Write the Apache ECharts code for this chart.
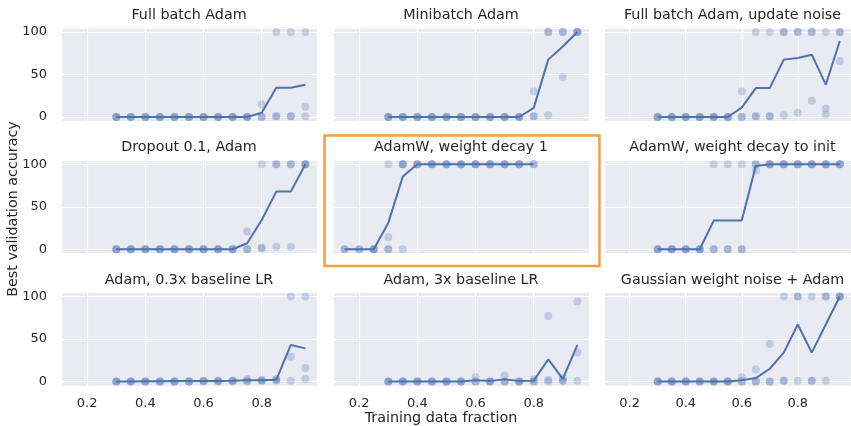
<!DOCTYPE html>
<html><head><meta charset="utf-8">
<script src="https://cdn.jsdelivr.net/npm/echarts@6/dist/echarts.min.js"></script>
<style>html,body{margin:0;padding:0;background:#fff}#c{width:851px;height:426px}</style>
</head><body><div id="c"></div>
<script>
// ---------- data ----------
const xMain = [0.3,0.35,0.4,0.45,0.5,0.55,0.6,0.65,0.7,0.75,0.8,0.85,0.9,0.95];
const xWeightDecay = [0.15,0.2,0.25,0.3,0.35,0.4,0.45,0.5,0.55,0.6,0.65,0.7,0.75,0.8];
const xTicks = [0.2,0.4,0.6,0.8];
const yTicks = [0,50,100];
const titles = [
  'Full batch Adam','Minibatch Adam','Full batch Adam, update noise',
  'Dropout 0.1, Adam','AdamW, weight decay 1','AdamW, weight decay to init',
  'Adam, 0.3x baseline LR','Adam, 3x baseline LR','Gaussian weight noise + Adam'
];
const Z3 = [0,0,0];

const meanFullBatch = [0,0,0,0,0,0,0,0,0,0,5,34.5,34.5,38];
const runsFullBatch = [Z3,Z3,Z3,Z3,Z3,Z3,Z3,Z3,Z3,Z3,[15,0,0],[100,1,1],[100,1,1],[100,12,1]];

const meanMinibatch = [0,0,0,0,0,0,0,0,0,0,10.7,67.5,83,100];
const runsMinibatch = [Z3,Z3,Z3,Z3,Z3,Z3,Z3,Z3,Z3,Z3,[30,1,1],[100,100,2],[100,100,47],[100,100,100]];

const meanUpdateNoise = [0,0,0,0,0,0,11,34,34,67.5,69.4,73.3,38,89.4];
const runsUpdateNoise = [Z3,Z3,Z3,Z3,Z3,Z3,[30,0,0],[100,1,1],[100,1,1],[100,100,2],[100,100,5],[100,100,19],[100,10,3],[100,100,66]];

const meanDropout = [0,0,0,0,0,0,0,0,0,7,34.5,67.8,67.8,100];
const runsDropout = [Z3,Z3,Z3,Z3,Z3,Z3,Z3,Z3,Z3,[21,0,0],[100,2,1],[100,100,3],[100,100,3],[100,100,100]];

const meanWeightDecay = [0,0,0,31,85.5,100,100,100,100,100,100,100,100,100];
const runsWeightDecay = [[0,0],[0,0],Z3,[100,14,0,0],[100,100,100,0],[100,100,100],[100,100,100],[100,100,100],[100,100,100],[100,100,100],[100,100,100],[100,100,100],[100,100,100],[100,100]];

const meanDecayInit = [0,0,0,0,33.7,33.7,33.7,98,100,100,100,100,100,100];
const runsDecayInit = [Z3,Z3,Z3,Z3,[100,0,0],[100,0,0],[100,0,0],[100,100,93],[100,100,100],[100,100,100],[100,100,100],[100,100,100],[100,100,100],[100,100,100]];

const meanLowLR = [0,0,0.3,0.3,0.5,0.5,0.7,0.7,1,1.5,1.5,2,43,39];
const runsLowLR = [Z3,Z3,Z3,Z3,Z3,Z3,[1,1,0],[1,1,0],[1,1,0],[3,1,0],[2,1,1],[3,2,1],[100,29,1],[100,16,3]];

const meanHighLR = [0,0,0,0,0,0,1.5,0.5,2.5,0.5,1,26,3,43];
const runsHighLR = [Z3,Z3,Z3,Z3,Z3,Z3,[5,0,0],Z3,[7,0,0],Z3,[3,0,0],[77,2,0],[4,1,1],[94,34,1]];

const meanGaussNoise = [0,0,0,0,0,0,1.5,4,15,34,67,34,67,100];
const runsGaussNoise = [Z3,Z3,Z3,Z3,Z3,Z3,[5,0,0],[14,0,0],[44,0,0],[100,1,1],[100,100,1],[100,1,1],[100,100,1],[100,100,100]];

const panelX = [xMain,xMain,xMain,xMain,xWeightDecay,xMain,xMain,xMain,xMain];
const panelMean = [meanFullBatch,meanMinibatch,meanUpdateNoise,meanDropout,meanWeightDecay,meanDecayInit,meanLowLR,meanHighLR,meanGaussNoise];
const panelRuns = [runsFullBatch,runsMinibatch,runsUpdateNoise,runsDropout,runsWeightDecay,runsDecayInit,runsLowLR,runsHighLR,runsGaussNoise];

// ---------- layout ----------
const gridLeft = [61, 333, 604.5];
const gridTop = [27.75, 160, 292.25];
const GW = 256, GH = 93.5;
const BLUE = '#4c72b0', TXT = '#262626', FONT = 'DejaVu Sans';

const grids = [], xAxes = [], yAxes = [], series = [], graphics = [];
for (let i = 0; i < 9; i++) {
  const r = Math.floor(i / 3), c = i % 3;
  grids.push({left: gridLeft[c], top: gridTop[r], width: GW, height: GH, show: true,
    backgroundColor: '#eaeaf2', borderWidth: 0, containLabel: false});
  xAxes.push({type: 'value', gridIndex: i, min: 0.11, max: 0.99, splitNumber: 4,
    minInterval: 0.2, maxInterval: 0.2,
    axisLine: {show: false}, axisTick: {show: false},
    splitLine: {show: true, lineStyle: {color: '#ffffff', width: 1.2}},
    axisLabel: {show: r === 2, color: TXT, fontSize: 13, fontFamily: FONT, margin: 11,
      showMinLabel: false, showMaxLabel: false,
      formatter: v => xTicks.some(t => Math.abs(t - v) < 1e-6) ? v.toFixed(1) : ''}});
  yAxes.push({type: 'value', gridIndex: i, min: -5, max: 105, splitNumber: 2,
    minInterval: 50, maxInterval: 50,
    axisLine: {show: false}, axisTick: {show: false},
    splitLine: {show: true, lineStyle: {color: '#ffffff', width: 1.2}},
    axisLabel: {show: c === 0, color: TXT, fontSize: 13, fontFamily: FONT, margin: 14,
      showMinLabel: false, showMaxLabel: false,
      formatter: v => yTicks.some(t => Math.abs(t - v) < 1e-6) ? String(Math.round(v)) : ''}});
  const pts = [];
  panelRuns[i].forEach((vals, k) => vals.forEach(v => pts.push([panelX[i][k], v])));
  series.push({type: 'scatter', xAxisIndex: i, yAxisIndex: i, data: pts, symbolSize: 8,
    itemStyle: {color: BLUE, opacity: 0.27}, clip: false, silent: true, z: 2});
  series.push({type: 'line', xAxisIndex: i, yAxisIndex: i,
    data: panelX[i].map((x, k) => [x, panelMean[i][k]]),
    showSymbol: false, symbol: 'none', lineStyle: {color: BLUE, width: 2}, itemStyle: {color: BLUE},
    clip: false, silent: true, z: 3});
  graphics.push({type: 'text', x: gridLeft[c] + GW / 2, y: gridTop[r] - 12.3, silent: true,
    style: {text: titles[i], fill: TXT, fontSize: 14.3, fontFamily: FONT,
      align: 'center', verticalAlign: 'middle', textAlign: 'center', textVerticalAlign: 'middle'}});
}
graphics.push({type: 'text', x: 441, y: 418, silent: true,
  style: {text: 'Training data fraction', fill: TXT, fontSize: 14.3, fontFamily: FONT,
    align: 'center', verticalAlign: 'middle', textAlign: 'center', textVerticalAlign: 'middle'}});
graphics.push({type: 'text', x: 13, y: 209, rotation: Math.PI / 2, silent: true,
  style: {text: 'Best validation accuracy', fill: TXT, fontSize: 14.3, fontFamily: FONT,
    align: 'center', verticalAlign: 'middle', textAlign: 'center', textVerticalAlign: 'middle'}});
graphics.push({type: 'rect', silent: true, z: 10,
  shape: {x: 324.5, y: 135.5, width: 275, height: 130.5},
  style: {fill: 'none', stroke: '#f5a03c', lineWidth: 2.5}});

const chart = echarts.init(document.getElementById('c'), null, {renderer: 'canvas'});
chart.setOption({
  animation: false,
  backgroundColor: '#ffffff',
  textStyle: {fontFamily: FONT},
  grid: grids, xAxis: xAxes, yAxis: yAxes, series: series,
  graphic: {elements: graphics}
});
</script></body></html>
